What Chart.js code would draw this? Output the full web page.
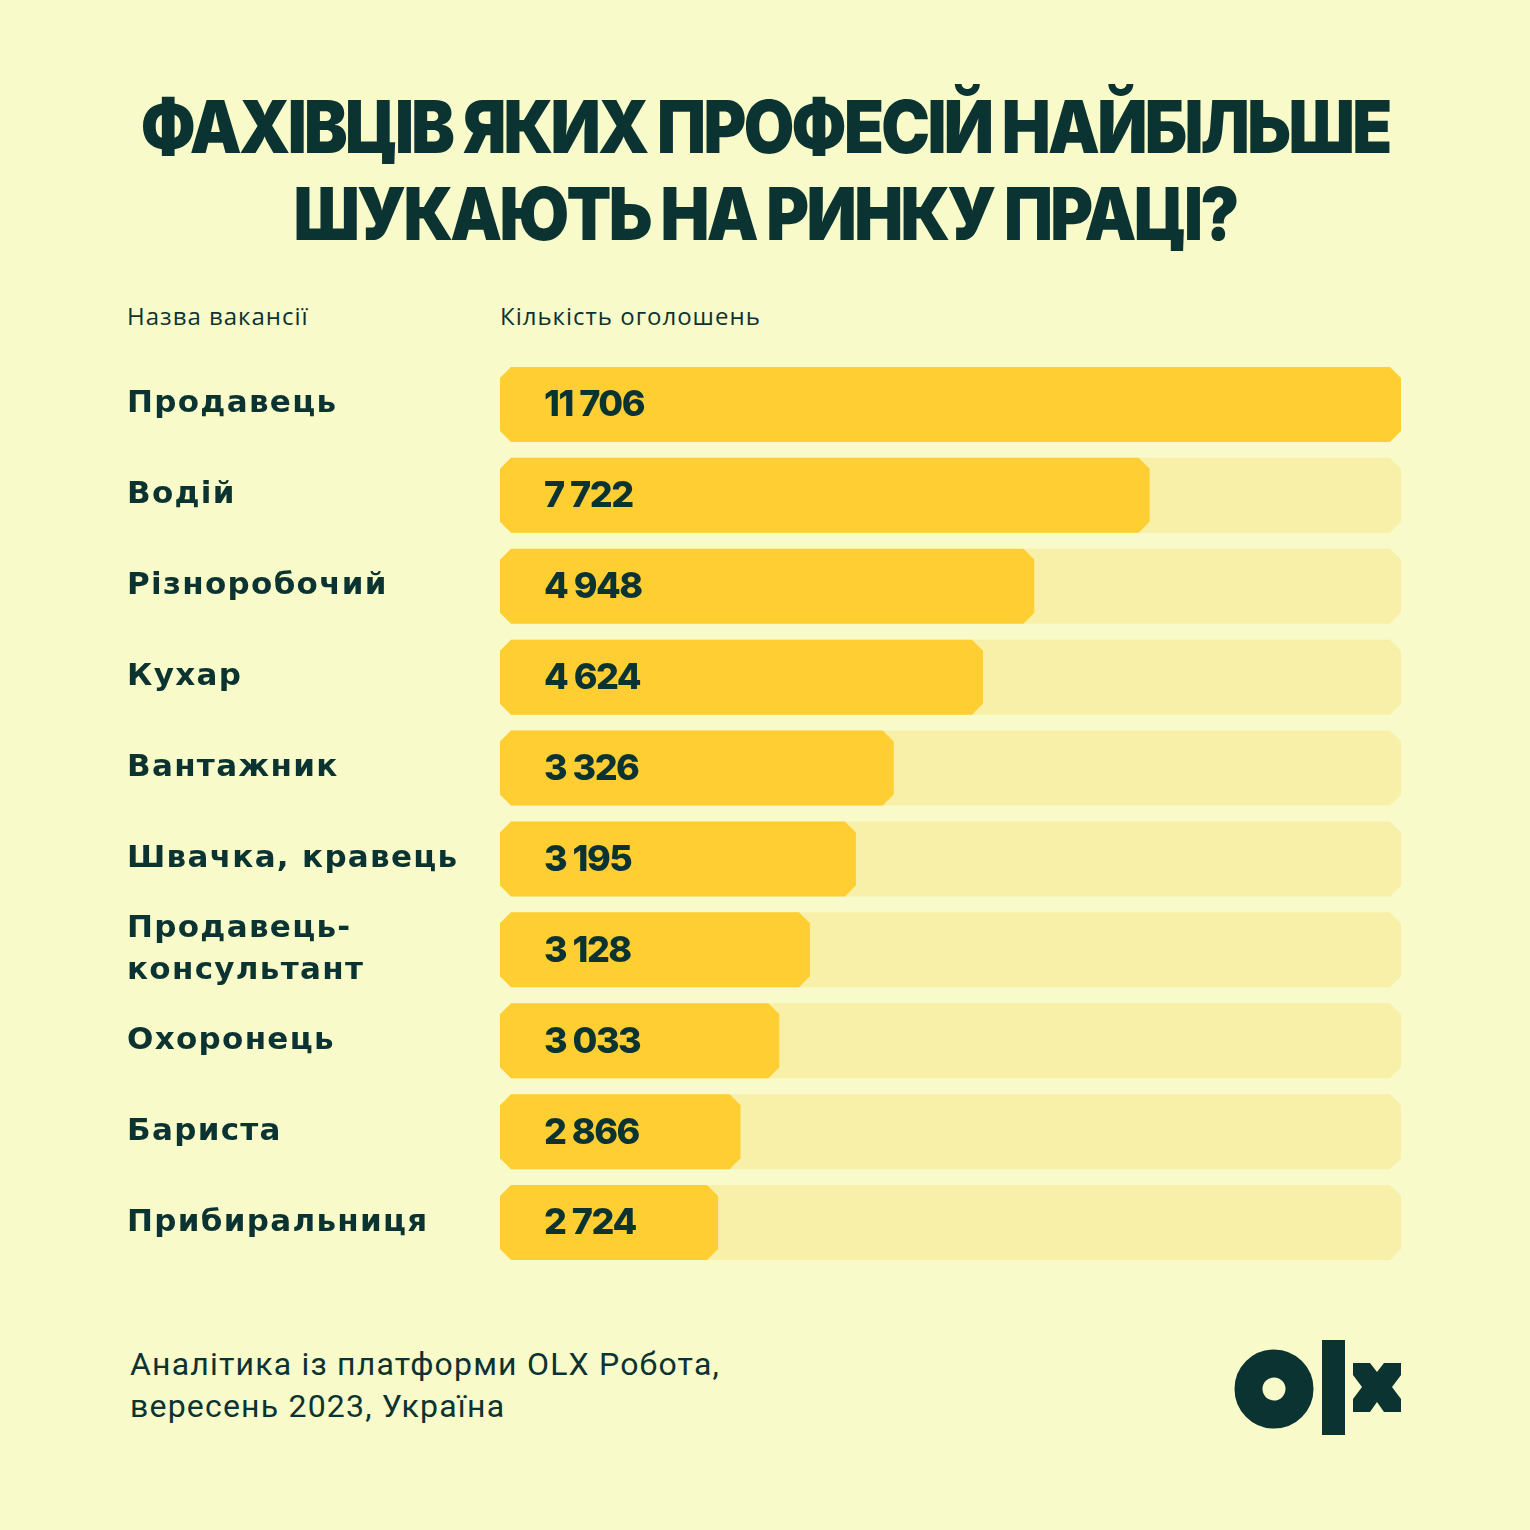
<!DOCTYPE html>
<html lang="uk">
<head>
<meta charset="utf-8">
<title>Фахівців яких професій найбільше шукають</title>
<script src="https://cdn.jsdelivr.net/npm/chart.js@4.4.0/dist/chart.umd.min.js"></script>
<style>
  html, body { margin: 0; padding: 0; }
  body { width: 1530px; height: 1530px; background: #f8fac9; position: relative; overflow: hidden; color: #0b3332; }
  #title { position: absolute; left: 0; width: 1530px; top: 83px; text-align: center;
           font-family: Inter, sans-serif; font-weight: 900; font-size: 73px; line-height: 87px; letter-spacing: -3px;
           transform: scaleX(0.895); transform-origin: 766px 0; }
  .head { position: absolute; top: 299px; font-family: "Open Sans", sans-serif; font-size: 24px; letter-spacing: 1px; }
  #foot { position: absolute; left: 130px; top: 1343px; font-family: "Roboto", sans-serif; font-size: 32px; line-height: 42px; letter-spacing: 1.2px; }
  #chartBox { position: absolute; left: 127px; top: 338px; width: 1274px; height: 951px; }
  #logo { position: absolute; left: 1230px; top: 1335px; }
</style>
</head>
<body>
<div id="title">ФАХІВЦІВ ЯКИХ ПРОФЕСІЙ НАЙБІЛЬШЕ<br>ШУКАЮТЬ НА РИНКУ ПРАЦІ?</div>
<div class="head" style="left:127px">Назва вакансії</div>
<div class="head" style="left:500px">Кількість оголошень</div>
<div id="chartBox"><canvas id="jobsChart"></canvas></div>
<div id="foot">Аналітика із платформи OLX Робота,<br>вересень 2023, Україна</div>
<svg id="logo" width="180" height="105" viewBox="0 0 180 105">
  <circle cx="44" cy="54" r="25.5" fill="none" stroke="#0b3332" stroke-width="28"/>
  <rect x="92" y="5" width="23" height="95" fill="#0b3332"/>
  <polygon fill="#0b3332" points="123,28 140,28 147,37 154,28 171,28 171,40 162,52 171,64 171,77 154,77 147,67 140,77 123,77 123,64 132,52 123,40"/>
</svg>

<script>
// --- Data ---
let categories = ['Продавець', 'Водій', 'Різноробочий', 'Кухар', 'Вантажник', 'Швачка, кравець',
                  ['Продавець-', 'консультант'], 'Охоронець', 'Бариста', 'Прибиральниця'];
let counts = [11706, 7722, 4948, 4624, 3326, 3195, 3128, 3033, 2866, 2724];
// bar lengths as drawn in the picture (% of the full track), they are not proportional to counts
let barLengths = [100, 72.1, 59.3, 53.6, 43.7, 39.5, 34.4, 31.0, 26.7, 24.2];
let trackLengths = [100, 100, 100, 100, 100, 100, 100, 100, 100, 100];

const DARK = '#0b3332';

function formatCount(n){
    return String(n).replace(/\B(?=(\d{3})+(?!\d))/g, ' ');
}

// --- Plugins ---
// wider letter spacing for the category labels only
const labelSpacing = {
    id: 'labelSpacing',
    beforeDraw(chart){ chart.ctx.letterSpacing = '1.3px'; },
    beforeDatasetsDraw(chart){ chart.ctx.letterSpacing = '0px'; }
};

// bars with cut corners instead of plain rectangles
const chamferBars = {
    id: 'chamferBars',
    beforeDatasetDraw(chart, args){
        let ctx = chart.ctx;
        let ds = chart.data.datasets[args.index];
        let c = 11;
        ctx.save();
        ctx.fillStyle = ds.backgroundColor;
        args.meta.data.forEach(bar => {
            let p = bar.getProps(['x', 'y', 'base', 'height'], true);
            let l = Math.min(p.base, p.x), r = Math.max(p.base, p.x);
            let t = p.y - p.height / 2, b = p.y + p.height / 2;
            ctx.beginPath();
            ctx.moveTo(l + c, t);
            ctx.lineTo(r - c, t);
            ctx.lineTo(r, t + c);
            ctx.lineTo(r, b - c);
            ctx.lineTo(r - c, b);
            ctx.lineTo(l + c, b);
            ctx.lineTo(l, b - c);
            ctx.lineTo(l, t + c);
            ctx.closePath();
            ctx.fill();
        });
        ctx.restore();
        return false;
    }
};

const valueLabels = {
    id: 'valueLabels',
    afterDatasetsDraw(chart){
        let ctx = chart.ctx;
        let meta = chart.getDatasetMeta(0);
        ctx.save();
        ctx.fillStyle = DARK;
        ctx.font = '800 36px Inter';
        ctx.letterSpacing = '-1.5px';
        ctx.textBaseline = 'middle';
        ctx.textAlign = 'left';
        meta.data.forEach((bar, i) => {
            ctx.fillText(formatCount(counts[i]), chart.chartArea.left + 44, bar.y + 1);
        });
        ctx.restore();
    }
};

// --- Chart ---
new Chart(document.getElementById('jobsChart'), {
    type: 'bar',
    data: {
        labels: categories,
        datasets: [
            {label: 'Кількість оголошень', data: barLengths, backgroundColor: '#ffce32',
             barThickness: 75, grouped: false, order: 0},
            {label: 'track', data: trackLengths, backgroundColor: '#f8f0a8',
             barThickness: 75, grouped: false, order: 1}
        ]
    },
    options: {
        indexAxis: 'y',
        responsive: true,
        maintainAspectRatio: false,
        animation: false,
        layout: {padding: 0},
        plugins: {legend: {display: false}, tooltip: {enabled: false}},
        scales: {
            x: {display: false, min: 0, max: 100},
            y: {
                grid: {display: false},
                border: {display: false},
                afterFit(scale){ scale.width = 373; },
                ticks: {
                    crossAlign: 'far',
                    padding: 0,
                    color: DARK,
                    font: {family: 'DejaVu Sans', weight: 'bold', size: 31, lineHeight: 1.35}
                }
            }
        }
    },
    plugins: [labelSpacing, chamferBars, valueLabels]
});
</script>
</body>
</html>
